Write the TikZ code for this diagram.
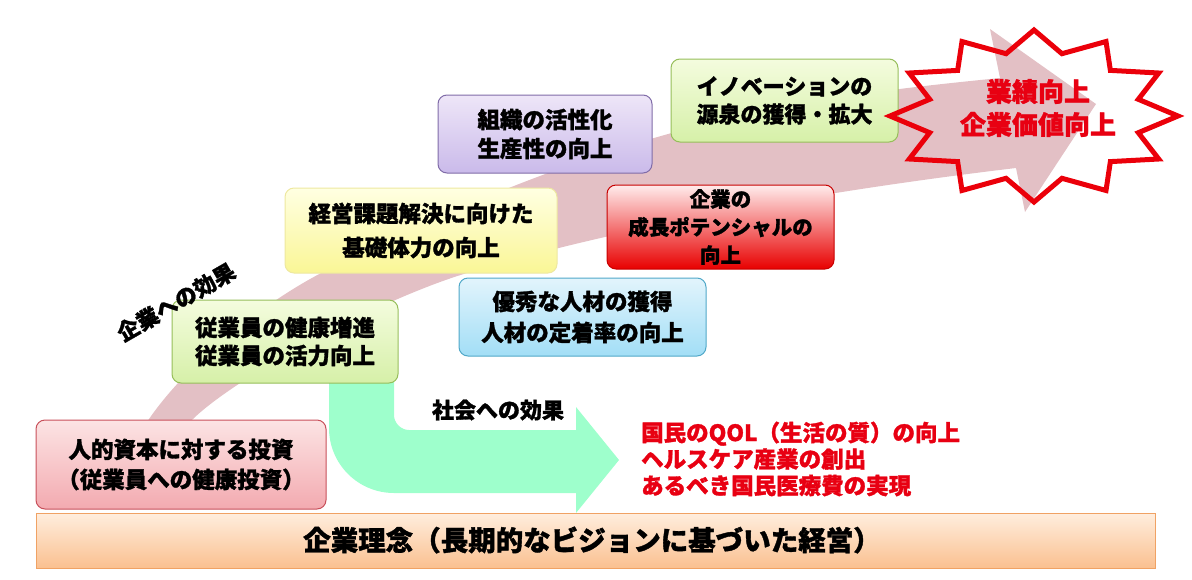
\documentclass[tikz,border=0pt]{standalone}
\usepackage{fontspec}
\setmainfont{Noto Sans CJK JP}[BoldFeatures={FakeBold=1.3}]
\definecolor{arrowpink}{RGB}{227,192,197}
\definecolor{mint}{RGB}{158,255,204}
\definecolor{txtred}{RGB}{232,0,18}
\definecolor{starred}{RGB}{235,0,10}
\definecolor{pinkT}{RGB}{252,228,228}\definecolor{pinkB}{RGB}{243,170,176}\definecolor{pinkD}{RGB}{200,80,90}
\definecolor{grnT}{RGB}{244,252,222}\definecolor{grnB}{RGB}{214,240,168}\definecolor{grnD}{RGB}{150,190,90}
\definecolor{yelT}{RGB}{255,255,226}\definecolor{yelB}{RGB}{250,246,150}\definecolor{yelD}{RGB}{238,232,160}
\definecolor{purT}{RGB}{238,230,248}\definecolor{purB}{RGB}{202,186,234}\definecolor{purD}{RGB}{128,108,168}
\definecolor{redT}{RGB}{255,236,236}\definecolor{redB}{RGB}{232,0,0}\definecolor{redD}{RGB}{200,0,0}
\definecolor{bluT}{RGB}{226,244,252}\definecolor{bluB}{RGB}{162,222,246}\definecolor{bluD}{RGB}{80,168,200}
\definecolor{barT}{RGB}{255,238,222}\definecolor{barB}{RGB}{250,192,144}\definecolor{barD}{RGB}{240,162,100}
\newcommand\jpf[2]{\fontsize{#1}{#2}\selectfont\bfseries}
\begin{document}
\begin{tikzpicture}[x=1pt,y=-1pt,
  box/.style={rounded corners=9pt, align=center, inner sep=0pt, line width=1pt},
  bigarrow/.style={fill=arrowpink},
  mintarrow/.style={fill=mint},
  plain/.style={align=center, inner sep=0pt},
  starline/.style={draw=starred, line width=5pt, line join=miter, miter limit=10}]
\useasboundingbox (0,0) rectangle (1192,579);
% big curved arrow
\fill[bigarrow] (147,422) .. controls (187,362) and (267,300) .. (327,270)
  .. controls (627,120) and (800,98) .. (1000,78) -- (990,29) -- (1096,104) -- (1025,212) -- (1016,168)
  .. controls (815,192) and (617,228) .. (467,273)
  .. controls (377,300) and (230,380) .. (190,422) -- cycle;
% mint arrow
\fill[mintarrow] (329,375) -- (329,428) .. controls (329,464) and (358,493) .. (394,493)
  -- (576,493) -- (576,513) -- (619,460) -- (576,407) -- (576,430) -- (409,430)
  .. controls (401,430) and (394,423) .. (394,415) -- (394,375) -- cycle;
% boxes
\node[box, draw=pinkD, top color=pinkT, bottom color=pinkB, minimum width=290pt, minimum height=89pt,
  font=\jpf{22.5}{30}] (invest) at (181,464.5) {人的資本に対する投資\\（従業員への健康投資）};
\node[box, draw=grnD, top color=grnT, bottom color=grnB, minimum width=226pt, minimum height=83pt,
  font=\jpf{22.5}{28}] (health) at (285,341.5) {従業員の健康増進\\従業員の活力向上};
\node[box, draw=yelD, top color=yelT, bottom color=yelB, minimum width=272pt, minimum height=85pt,
  font=\jpf{22.5}{34}] (basic) at (421,230.5) {経営課題解決に向けた\\基礎体力の向上};
\node[box, draw=purD, top color=purT, bottom color=purB, minimum width=214pt, minimum height=78pt,
  font=\jpf{22.5}{29}] (org) at (545,134) {組織の活性化\\生産性の向上};
\node[box, draw=grnD, top color=grnT, bottom color=grnB, minimum width=227pt, minimum height=83pt,
  font=\jpf{22}{28}] (innov) at (784.5,100.5) {イノベーションの\\源泉の獲得・拡大};
\node[box, draw=redD, top color=redT, bottom color=redB, minimum width=227pt, minimum height=84pt,
  font=\jpf{20.5}{28}] (growth) at (720.5,227) {企業の\\成長ポテンシャルの\\向上};
\node[box, draw=bluD, top color=bluT, bottom color=bluB, minimum width=247pt, minimum height=78pt,
  font=\jpf{22.5}{31}] (talent) at (582.5,317) {優秀な人材の獲得\\人材の定着率の向上};
% bottom bar
\node[draw=barD, line width=1pt, top color=barT, bottom color=barB, minimum width=1119pt, minimum height=55pt, inner sep=0pt]
  (bar) at (595.5,540.5) {};
\node[plain, font=\jpf{27.5}{30}] (philo) at (592,540) {企業理念（長期的なビジョンに基づいた経営）};
% star
\draw[starline] (1034,30) \foreach \a in {0,30,...,330} {
  -- ({1034+108*cos(105+\a)},{116-64.5*sin(105+\a)})
  -- ({1034+144*cos(120+\a)},{116-86*sin(120+\a)}) } -- cycle;
\node[plain, text=txtred, font=\jpf{26}{33}] (result) at (1038,108) {業績向上\\企業価値向上};
% labels
\node[plain, rotate=30, font=\jpf{22}{26}] (corp) at (176,302) {企業への効果};
\node[plain, font=\jpf{22}{26}] (soc) at (498,410) {社会への効果};
\node[plain, align=left, anchor=west, text=txtred, font=\jpf{22.5}{26.5}] (socfx) at (641,459)
  {国民のQOL（生活の質）の向上\\ヘルスケア産業の創出\\あるべき国民医療費の実現};
\end{tikzpicture}
\end{document}
